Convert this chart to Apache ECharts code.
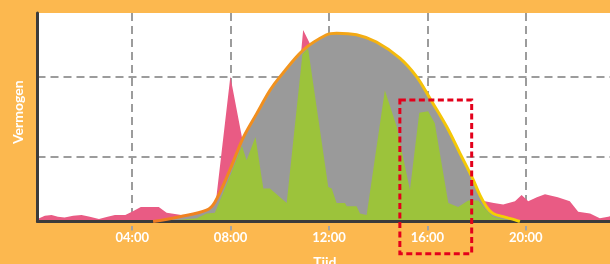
<!DOCTYPE html>
<html>
<head>
<meta charset="utf-8">
<script src="https://cdn.jsdelivr.net/npm/echarts@6/dist/echarts.min.js"></script>
<style>
html,body{margin:0;padding:0;background:#FCB84F;}
#c{width:610px;height:264px;}
</style>
</head>
<body>
<div id="c"></div>
<script>
// ---- data (hours of day, power in chart units) ----
const tickHours = [4, 8, 12, 16, 20];
const gridLevels = [0.8, 1.8];

// consumption (pink)
const verbruik = [
  [0.15,0.03],[0.45,0.07],[0.72,0.08],[0.98,0.06],[1.25,0.05],[1.60,0.07],[1.94,0.08],[2.28,0.06],
  [2.65,0.03],[3.00,0.06],[3.30,0.08],[3.72,0.08],[4.05,0.13],[4.35,0.18],[4.75,0.18],[5.08,0.18],
  [5.40,0.11],[5.80,0.09],[6.20,0.07],[6.60,0.09],[6.96,0.11],[7.36,0.14],[7.99,1.80],[8.51,0.97],
  [9.00,0.30],[9.60,0.25],[10.30,0.26],[10.95,2.38],[11.22,2.21],[11.60,0.30],[12.50,0.25],[13.50,0.22],
  [14.50,0.25],[15.50,0.22],[16.50,0.25],[17.40,0.27],[17.90,0.28],[18.34,0.25],[18.70,0.23],[19.08,0.21],
  [19.56,0.25],[19.83,0.33],[20.10,0.25],[20.45,0.30],[20.78,0.34],[21.30,0.30],[21.79,0.25],[22.13,0.12],
  [22.61,0.10],[23.01,0.04],[23.35,0.06],[23.70,0.08],[24.00,0.07]
];

// expected solar output (grey area + orange/yellow line)
const zonVerwacht = [
  [4.85,0.00],[5.94,0.06],[7.02,0.14],[7.36,0.24],[7.97,0.64],[8.51,1.04],[9.06,1.34],[9.60,1.63],
  [10.01,1.80],[10.95,2.13],[11.90,2.32],[12.31,2.34],[13.12,2.32],[13.93,2.23],[14.88,2.03],[15.56,1.80],
  [16.10,1.53],[16.78,1.18],[17.32,0.85],[17.86,0.52],[18.13,0.33],[18.41,0.18],[18.67,0.10],[19.08,0.06],
  [19.56,0.02],[19.76,0.00]
];

// actual solar output (green)
const zonWerkelijk = [
  [5.33,0.00],[5.53,0.01],[6.62,0.04],[7.02,0.10],[7.36,0.11],[7.97,0.56],[8.46,0.94],[8.65,0.76],
  [9.01,1.05],[9.33,0.41],[9.60,0.41],[10.28,0.23],[10.92,2.08],[11.15,2.15],[11.97,0.43],[12.11,0.41],
  [12.31,0.23],[12.65,0.23],[12.72,0.19],[13.12,0.19],[13.26,0.10],[13.53,0.08],[14.27,1.63],[14.75,1.18],
  [15.29,0.39],[15.67,1.35],[16.03,1.37],[16.30,1.22],[16.85,0.23],[17.25,0.18],[17.66,0.26],[18.07,0.26],
  [18.34,0.16],[18.67,0.06],[19.02,0.03],[19.56,0.00]
];

// highlighted period (red dashed box)
const markeringUren = [14.88, 17.80];
const markeringVermogen = [-0.40, 1.51];

const chart = echarts.init(document.getElementById('c'), null, {renderer: 'canvas'});

const whiteText = {color: '#ffffff', fontFamily: 'Lato', fontWeight: 'bold'};
const gridDash = {color: '#9c9c9c', width: 2, type: [8, 5]};
const axisLineStyle = {color: '#3b3b3b', width: 3};

chart.setOption({
  animation: false,
  backgroundColor: '#FCB84F',
  grid: {left: 37.5, top: 13, right: -14.2, bottom: 42.5, outerBoundsMode: 'none', containLabel: false,
         show: true, backgroundColor: '#ffffff', borderWidth: 0},
  xAxis: [
    {
      type: 'value', min: 0.15, max: 24, position: 'bottom', z: 5,
      axisLine: {show: true, onZero: false, lineStyle: axisLineStyle},
      axisTick: {show: true, customValues: tickHours, length: 9, lineStyle: {color: '#a3a3a3', width: 2, type: [0, 4.5, 4.5, 30]}},
      axisLabel: {customValues: tickHours, formatter: v => (v < 10 ? '0' : '') + v + ':00', fontSize: 13, margin: 10, ...whiteText},
      splitLine: {show: false},
      name: 'Tijd', nameLocation: 'middle', nameGap: 34,
      nameTextStyle: {fontSize: 14, padding: [0, 12, 0, 0], ...whiteText}
    },
    {
      type: 'value', min: 0.15, max: 24, position: 'top', z: 0,
      axisLine: {show: false}, axisTick: {show: false, customValues: tickHours}, axisLabel: {show: false},
      splitLine: {show: true, lineStyle: gridDash}
    }
  ],
  yAxis: [
    {
      type: 'value', min: 0, max: 2.59, position: 'left', z: 5,
      axisLine: {show: true, onZero: false, lineStyle: axisLineStyle},
      axisTick: {show: false}, axisLabel: {show: false}, splitLine: {show: false},
      name: 'Vermogen', nameLocation: 'middle', nameGap: 12,
      nameTextStyle: {fontSize: 14, padding: [0, 0, 0, 10], ...whiteText}
    },
    {
      type: 'value', min: 0, max: 2.59, position: 'right', z: 0,
      axisLine: {show: false}, axisTick: {show: false, customValues: gridLevels}, axisLabel: {show: false},
      splitLine: {show: true, lineStyle: gridDash}
    }
  ],
  series: [
    {
      name: 'Verbruik', type: 'line', data: verbruik, xAxisIndex: 0, yAxisIndex: 0,
      showSymbol: false, lineStyle: {width: 0}, areaStyle: {color: '#E95B84', opacity: 1}, z: 2
    },
    {
      name: 'Verwacht', type: 'line', data: zonVerwacht, xAxisIndex: 0, yAxisIndex: 0, smooth: 0.35,
      showSymbol: false, lineStyle: {width: 0}, areaStyle: {color: '#9a9a9a', opacity: 1}, z: 3
    },
    {
      name: 'Opbrengst', type: 'line', data: zonWerkelijk, xAxisIndex: 0, yAxisIndex: 0,
      showSymbol: false, lineStyle: {width: 0}, areaStyle: {color: '#9CC33B', opacity: 1}, z: 4
    },
    {
      name: 'Verwacht lijn', type: 'line', data: zonVerwacht, xAxisIndex: 0, yAxisIndex: 0, smooth: 0.35,
      showSymbol: false, z: 6,
      lineStyle: {
        width: 3,
        color: new echarts.graphic.LinearGradient(0, 0, 1, 0, [
          {offset: 0, color: '#EF7A22'},
          {offset: 0.45, color: '#F29A1C'},
          {offset: 0.68, color: '#F5BE0A'},
          {offset: 1, color: '#F3D400'}
        ])
      }
    }
  ]
});

const p1 = chart.convertToPixel({seriesIndex: 0}, [markeringUren[0], markeringVermogen[1]]);
const p2 = chart.convertToPixel({seriesIndex: 0}, [markeringUren[1], markeringVermogen[0]]);
chart.setOption({
  graphic: [{
    type: 'rect', z: 100, silent: true,
    shape: {x: p1[0], y: p1[1], width: p2[0] - p1[0], height: p2[1] - p1[1]},
    style: {fill: null, stroke: '#E3001B', lineWidth: 3, lineDash: [6, 3.5]}
  }]
});
</script>
</body>
</html>
